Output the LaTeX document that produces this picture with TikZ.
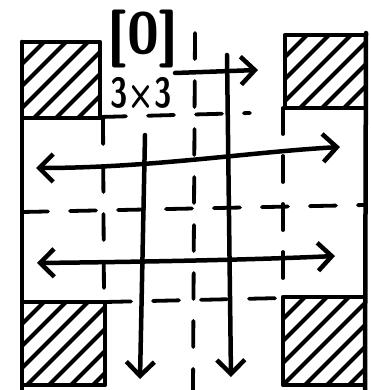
\documentclass[tikz,border=0pt]{standalone}
\usepackage{tikz}
\usetikzlibrary{arrows.meta,positioning}

\tikzset{
  stroke/.style={line width=4.5pt,line cap=round,line join=round},
  gridline/.style={line width=3.8pt,line cap=round,dash pattern=on 26pt off 22pt},
  hatchline/.style={line width=4pt,line cap=round},
  flow/.style={stroke,-{Straight Barb[length=14pt,width=28pt]}},
  sweep/.style={stroke,{Straight Barb[length=14pt,width=28pt]}-{Straight Barb[length=14pt,width=28pt]}},
  label/.style={font=\sffamily\bfseries,inner sep=0pt},
}

\begin{document}
\begin{tikzpicture}[x=1pt,y=-1pt]
  \useasboundingbox (0,0) rectangle (371,390);

  % Outer walls
  \coordinate (WL1) at (22,42);
  \coordinate (WL2) at (22,390);
  \coordinate (WR1) at (366,33);
  \coordinate (WR2) at (365,390);
  \draw[stroke] (WL1) -- (WL2);
  \draw[stroke] (WR1) -- (WR2);

  % Hatched corners
  \foreach \xa/\ya/\xb/\yb/\n in {22/42/100/118/6, 285/35/366/108/6,
                                  22/302/105/385/7, 283/297/365/385/7}{
    \draw[stroke] (\xa,\ya) rectangle (\xb,\yb);
    \begin{scope}
      \clip (\xa,\ya) rectangle (\xb,\yb);
      \foreach \k in {1,...,\n}{
        \pgfmathsetmacro\c{\xa+\ya+22*\k}
        \draw[hatchline] ({\c-400},400) -- (\c,0);
      }
    \end{scope}
  }

  % Grid lines
  \draw[gridline] (103,118) -- (104,300);
  \draw[gridline] (195,33) -- (193,390);
  \draw[gridline] (283,108) -- (283,297);
  \draw[gridline] (100,117) -- (250,113);
  \draw[gridline] (22,212) -- (365,205);
  \draw[gridline] (105,302) -- (283,298);

  % Block label
  \node[label] (blk) at (143,39) {\fontsize{58}{58}\selectfont[0]};
  \node[label] (dim) at (141,93) {\scalebox{0.75}[1]{\fontsize{42}{42}\selectfont 3\texttimes3}};

  % Sweeps
  \coordinate (S0a) at (175,73);
  \coordinate (S0b) at (258,70);
  \coordinate (S1a) at (36,168);
  \coordinate (S1b) at (340,147);
  \coordinate (S2a) at (37,263);
  \coordinate (S2b) at (335,256);
  \draw[flow] (S0a) -- (S0b);
  \draw[sweep] (S1a) .. controls (150,168) and (250,152) .. (S1b);
  \draw[sweep] (S2a) .. controls (130,262) and (250,260) .. (S2b);

  % Downward flows
  \coordinate (D1a) at (145,135);
  \coordinate (D1b) at (140,379);
  \coordinate (D2a) at (227,55);
  \coordinate (D2b) at (231,377);
  \draw[flow] (D1a) -- (D1b);
  \draw[flow] (D2a) -- (D2b);
\end{tikzpicture}
\end{document}
